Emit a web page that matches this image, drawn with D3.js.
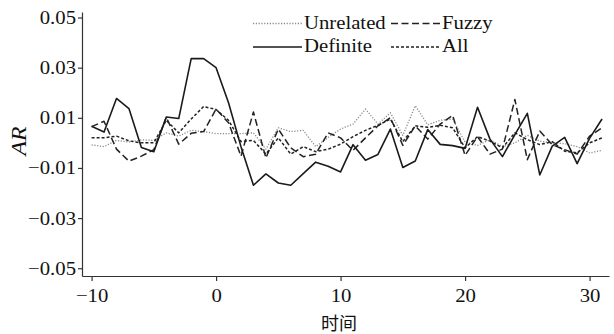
<!DOCTYPE html>
<html>
<head>
<meta charset="utf-8">
<script src="https://cdn.jsdelivr.net/npm/d3@7"></script>
<style>
  body { margin: 0; background: #fff; }
  svg { display: block; }
  text { font-family: "Liberation Serif", "Times New Roman", serif; fill: #111; }
</style>
</head>
<body>
<div id="chart"></div>
<script>
// event window days
var days = [-10, -9, -8, -7, -6, -5, -4, -3, -2, -1, 0, 1, 2, 3, 4, 5, 6, 7, 8, 9, 10,
    11, 12, 13, 14, 15, 16, 17, 18, 19, 20, 21, 22, 23, 24, 25, 26, 27, 28, 29, 30, 31];

var unrelated = [-0.0008, -0.0015, 0.001, 0.0003, 0.0012, 0.001, 0.004, 0.0027, 0.005, 0.0045, 0.0037,
    0.0037, 0.0037, 0.004, -0.0025, 0.006, 0.0045, 0.005, -0.0015, 0.0022, 0.0055,
    0.0075, 0.0135, 0.0075, 0.012, 0.003, 0.0148, 0.0072, 0.009, 0.0095, 0.0003,
    -0.001, 0.0013, -0.0015, 0, 0.003, 0.0007, 0, -0.0003, -0.0015, -0.004, -0.003];

var fuzzy = [0.0065, 0.0086, -0.0025, -0.0073, -0.0053, -0.0027, 0.0102, -0.0005, 0.0038, 0.0045, 0.0135,
    0.008, -0.0053, 0.0123, -0.006, 0.0055, -0.002, -0.0055, -0.0045, 0.004, 0.002,
    -0.003, 0.002, 0.0068, 0.010, -0.001, 0.0068, 0.0015, 0.0075, 0.011, -0.005,
    0.0025, -0.0045, -0.0025, 0.0173, -0.0067, 0.0047, -0.0007, -0.0027, -0.0045, 0.0027, 0.006];

var definite = [0.0066, 0.0043, 0.0177, 0.0137, -0.0018, -0.0035, 0.0103, 0.0097, 0.0336, 0.0336, 0.030,
    0.016, -0.0015, -0.0169, -0.0124, -0.016, -0.0169, -0.0123, -0.0077, -0.0093, -0.0116,
    -0.0007, -0.0069, -0.0046, 0.0055, -0.0098, -0.0072, 0.0053, -0.0006, -0.0011, -0.0022,
    0.0142, 0.0015, -0.0055, 0.0033, 0.0118, -0.0128, -0.0013, 0.0022, -0.0083, 0.0018, 0.0095];

var all = [0.002, 0.002, 0.0027, 0.0008, 0, 0, 0.009, 0.004, 0.0095, 0.0145, 0.0133,
    0.009, 0.0005, 0.001, -0.0045, 0.002, -0.0045, -0.0015, -0.0035, -0.0025, -0.0005,
    0.0025, 0.005, 0.007, 0.0095, 0.0005, 0.0068, 0.0062, 0.007, 0.006, -0.002,
    0.0025, 0.0007, -0.002, 0.004, 0.0013, -0.0007, 0.0005, -0.0033, -0.004, 0, 0.002];

var seriesNames = ["Unrelated", "Fuzzy", "Definite", "All"];
var xTicks = [-10, 0, 10, 20, 30];
var yTicks = [-0.05, -0.03, -0.01, 0.01, 0.03, 0.05];

var seriesValues = { "Unrelated": unrelated, "Fuzzy": fuzzy, "Definite": definite, "All": all };

var styles = {
    "Unrelated": { color: "#8a8a8a", width: 1.3, dash: "1.2,1.6" },
    "Fuzzy": { color: "#222", width: 1.5, dash: "7,3.5" },
    "Definite": { color: "#1a1a1a", width: 1.6, dash: null },
    "All": { color: "#222", width: 1.5, dash: "3,2" }
};

var W = 614, H = 334;
var plotLeft = 82, plotRight = 609, plotTop = 12, plotBottom = 276;
var fontSize = 18.5;
var stretch = 1.12;

var svg = d3.select("#chart").append("svg")
    .attr("width", W)
    .attr("height", H);

var x = d3.scaleLinear().domain([-10.77, 31.56]).range([plotLeft, plotRight]);
var y = d3.scaleLinear().domain([-0.0531, 0.0522]).range([plotBottom, plotTop]);

// axes
svg.append("g")
    .attr("transform", "translate(0," + plotBottom + ")")
    .call(d3.axisBottom(x).tickValues(xTicks).tickSize(5).tickPadding(8).tickSizeOuter(0));

svg.append("g")
    .attr("transform", "translate(" + plotLeft + ",0)")
    .call(d3.axisLeft(y).tickValues(yTicks).tickSize(4).tickPadding(2).tickSizeOuter(0)
        .tickFormat(d3.format(".2f")));

svg.selectAll(".domain, .tick line").attr("stroke", "#333").attr("stroke-width", 1.2);
svg.selectAll(".tick text")
    .attr("font-size", fontSize)
    .style("font-family", "'Liberation Serif', serif")
    .attr("fill", "#111");

// lines
var line = d3.line()
    .x(function (d) { return x(d[0]); })
    .y(function (d) { return y(d[1]); });

var drawOrder = ["Unrelated", "All", "Fuzzy", "Definite"];
drawOrder.forEach(function (name) {
    var vals = seriesValues[name];
    var pts = days.map(function (d, i) { return [d, vals[i]]; });
    var st = styles[name];
    svg.append("path")
        .datum(pts)
        .attr("fill", "none")
        .attr("stroke", st.color)
        .attr("stroke-width", st.width)
        .attr("stroke-dasharray", st.dash)
        .attr("stroke-linejoin", "round")
        .attr("d", line);
});

// legend
var legendPos = {
    "Unrelated": [253, 23.5],
    "Fuzzy": [391, 23.5],
    "Definite": [253, 47],
    "All": [391, 47]
};
seriesNames.forEach(function (name) {
    var p = legendPos[name], st = styles[name];
    var g = svg.append("g").attr("transform", "translate(" + p[0] + "," + p[1] + ")");
    g.append("line")
        .attr("x1", 0).attr("x2", 49)
        .attr("stroke", st.color)
        .attr("stroke-width", st.width)
        .attr("stroke-dasharray", st.dash);
    g.append("text")
        .attr("class", "leg")
        .attr("x", 51)
        .attr("y", 5)
        .attr("font-size", fontSize)
        .text(name);
});

// axis titles
svg.append("text")
    .attr("transform", "translate(26,141) rotate(-90)")
    .attr("text-anchor", "middle")
    .attr("font-size", 21)
    .attr("textLength", 29)
    .attr("lengthAdjust", "spacingAndGlyphs")
    .style("font-style", "italic")
    .text("AR");

svg.append("text")
    .attr("x", 339)
    .attr("y", 330)
    .attr("text-anchor", "middle")
    .attr("font-size", 18)
    .style("font-family", "'Noto Sans CJK SC', sans-serif")
    .text("时间");

// widen the serif glyphs to match the source
svg.selectAll(".tick text, text.leg").each(function () {
    var len = this.getComputedTextLength();
    d3.select(this).attr("textLength", len * stretch).attr("lengthAdjust", "spacingAndGlyphs");
});
</script>
</body>
</html>
